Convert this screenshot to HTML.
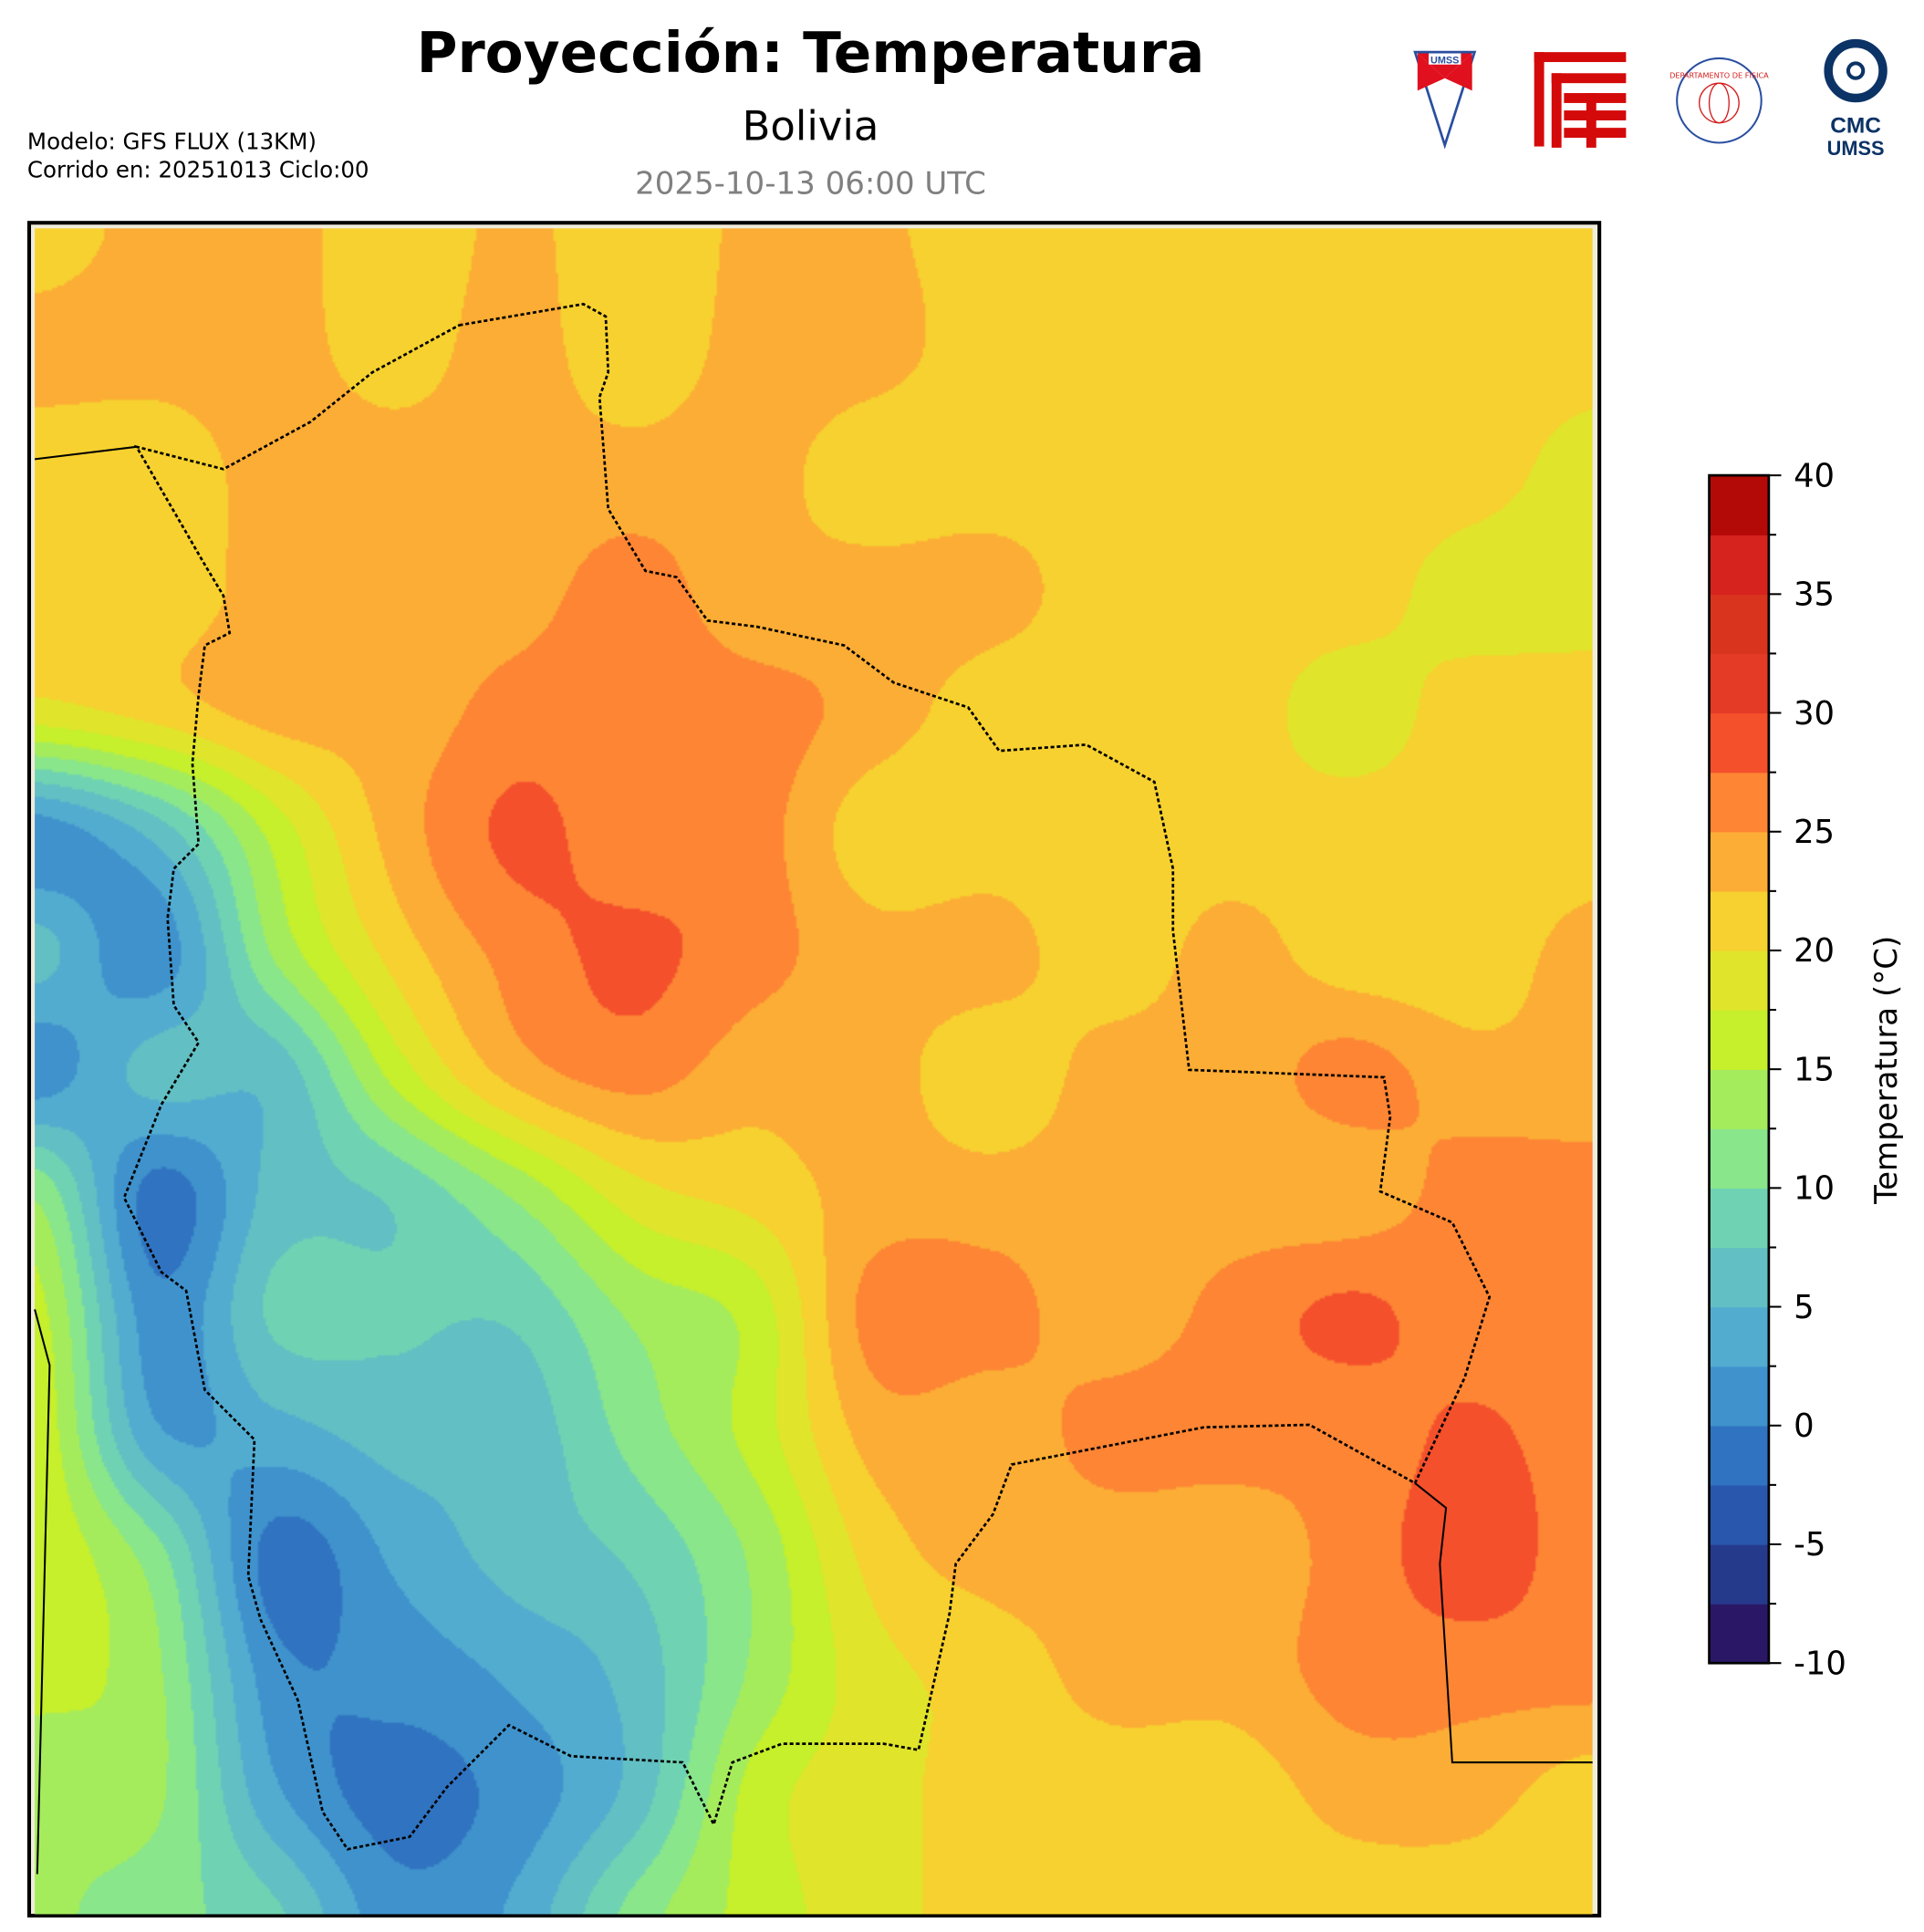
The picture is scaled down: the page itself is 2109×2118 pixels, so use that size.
<!DOCTYPE html>
<html><head><meta charset="utf-8">
<style>
html,body{margin:0;padding:0;background:#fff;}
body{width:2109px;height:2118px;overflow:hidden;position:relative;}
#wrap{position:absolute;left:0;top:0;width:1550px;height:1557px;transform:scale(1.3606);transform-origin:0 0;font-family:"DejaVu Sans","Liberation Sans",sans-serif;}
.t{position:absolute;white-space:nowrap;}
</style></head>
<body>
<div id="wrap">
  <div class="t" style="left:0;width:1306px;text-align:center;top:16px;font-size:45px;font-weight:bold;color:#000;">Proyección: Temperatura</div>
  <div class="t" style="left:0;width:1306px;text-align:center;top:82px;font-size:33px;color:#000;">Bolivia</div>
  <div class="t" style="left:0;width:1306px;text-align:center;top:133px;font-size:25px;color:#808080;">2025-10-13 06:00 UTC</div>
  <div class="t" style="left:22px;top:103px;font-size:18px;line-height:23px;color:#000;">Modelo: GFS FLUX (13KM)<br>Corrido en: 20251013 Ciclo:00</div>

  <svg style="position:absolute;left:1120px;top:25px;" width="420" height="110" viewBox="0 0 420 110">
    <g>
      <polygon points="20,17 68,17 44,92" fill="#fff" stroke="#2a4fa0" stroke-width="2"/>
      <polygon points="22,18 66,18 44,38" fill="#e0101e"/>
      <polygon points="22,18 44,38 22,48" fill="#e0101e"/>
      <polygon points="44,38 66,18 66,48" fill="#e0101e"/>
      <rect x="31" y="18" width="26" height="9" fill="#fff"/>
      <text x="44" y="26" font-size="8" font-weight="bold" fill="#2a4fa0" text-anchor="middle" font-family="Liberation Sans,sans-serif">UMSS</text>
    </g>
    <g fill="#d40a0a">
      <rect x="116" y="17" width="74" height="8"/>
      <rect x="116" y="17" width="8" height="76"/>
      <rect x="130" y="34" width="60" height="8"/>
      <rect x="130" y="34" width="8" height="60"/>
      <rect x="140" y="50" width="50" height="8"/>
      <rect x="140" y="64" width="50" height="8"/>
      <rect x="140" y="78" width="50" height="8"/>
      <rect x="158" y="50" width="8" height="44"/>
    </g>
    <g>
      <circle cx="265" cy="56" r="34" fill="none" stroke="#2a4fa0" stroke-width="1.5"/>
      <circle cx="265" cy="58" r="16" fill="none" stroke="#d42020" stroke-width="1"/>
      <ellipse cx="265" cy="58" rx="8" ry="16" fill="none" stroke="#d42020" stroke-width="1"/>
      <text x="265" y="38" font-size="6" fill="#d42020" text-anchor="middle">DEPARTAMENTO DE FISICA</text>
    </g>
    <g>
      <circle cx="375" cy="32" r="22" fill="none" stroke="#0c3366" stroke-width="7"/>
      <circle cx="375" cy="32" r="6" fill="none" stroke="#0c3366" stroke-width="3"/>
      <text x="375" y="82" font-size="18" font-weight="bold" fill="#0c3366" text-anchor="middle" font-family="Liberation Sans,sans-serif">CMC</text>
      <text x="375" y="100" font-size="16" font-weight="bold" fill="#0c3366" text-anchor="middle" font-family="Liberation Sans,sans-serif">UMSS</text>
    </g>
  </svg>

  <div style="position:absolute;left:22px;top:178px;width:1262px;height:1361px;border:3px solid #000;background:#f0ecdc;overflow:hidden;">
    <canvas id="map" width="628" height="680" style="position:absolute;left:3px;top:3px;width:1255px;height:1360px;"></canvas>
    <svg id="borders" style="position:absolute;left:-25px;top:-181px;" width="1320" height="1560" viewBox="0 0 1320 1560"></svg>
  </div>

  <svg id="cbar" style="position:absolute;left:1360px;top:370px;" width="190" height="990" viewBox="1360 370 190 990"></svg>
</div>

<script>
// ---- data ----
const gridCols = [28,125,221,318,414,511,607,704,800,897,993,1090,1186,1283];
const gridRows = [183,280,377,474,571,668,765,862,959,1056,1153,1250,1347,1444,1543];
const t0  = [21,23.5,23.5,21,23,21,23,23,21,21,21,21,21,21];
const t1  = [23.5,23.5,23.5,21.5,23.5,21,23.5,23.5,21,21,21,21,21,21];
const t2  = [21,21,23.5,23.5,23.5,23.5,23.5,21,21,21,21,21,21,19];
const t3  = [21,21,23.5,23.5,24,26,23.5,23.5,23.5,21,21,21,19,19];
const t4  = [19,21,23.5,23.5,26,26,26,24,21,21,21,19,21,21];
const t5  = [1,6,16,23.5,28,26,26,21,21,21,21,21,21,21];
const t6  = [6,1,13,21,26,28,26,23.5,23.5,21,23.5,21,21,23.5];
const t7  = [1,6,6,16,23.5,26,23.5,23.5,21,23.5,23.5,26,23.5,23.5];
const t8  = [12,-1,6,8,13,19,21,23.5,23.5,23.5,23.5,23.5,26,26];
const t9  = [16,1,8,8,8,13,16,26,26,23.5,26,28,26,26];
const t10 = [17,3,4,6,6,11,16,23.5,23.5,26,26,26,28,26];
const t11 = [17,11,-1,3,6,8,13,21,23.5,23.5,23.5,26,29,26];
const t12 = [16,13,1,1,3,6,13,19,21,23.5,23.5,26,26,26];
const t13 = [13,13,3,-1,1,6,16,19,21,21,21,23.5,23.5,21];
const t14 = [13,11,8,1,3,11,16,19,21,21,21,21,21,21];
const tempRows = [t0,t1,t2,t3,t4,t5,t6,t7,t8,t9,t10,t11,t12,t13,t14];
const levels = [-10,-7.5,-5,-2.5,0,2.5,5,7.5,10,12.5,15,17.5,20,22.5,25,27.5,30,32.5,35,37.5,40];
const levelColors = ["#2a1866","#263a8c","#2857ad","#3073c0","#3f92cc","#52acd0","#62bfc3","#6fd3b3","#89e68b","#a5ec5c","#c6ef2c","#e0e52b","#f7d12f","#fcad35","#fd8534","#f4502c","#e43b26","#d8341e","#d7231d","#b30a08"];
const tickLabels = ["40","35","30","25","20","15","10","5","0","-5","-10"];
const tickValues = [40,35,30,25,20,15,10,5,0,-5,-10];

// ---- field ----
(function(){
  const cv=document.getElementById('map'), ctx=cv.getContext('2d');
  const W=cv.width,H=cv.height, img=ctx.createImageData(W,H);
  const rgb=levelColors.map(c=>[parseInt(c.substr(1,2),16),parseInt(c.substr(3,2),16),parseInt(c.substr(5,2),16)]);
  const nr=tempRows.length,nc=tempRows[0].length;
  function g(r,c){r=Math.max(0,Math.min(nr-1,r));c=Math.max(0,Math.min(nc-1,c));return tempRows[r][c];}
  function cr(p0,p1,p2,p3,t){return 0.5*((2*p1)+(-p0+p2)*t+(2*p0-5*p1+4*p2-p3)*t*t+(-p0+3*p1-3*p2+p3)*t*t*t);}
  for(let y=0;y<H;y++){
    const gy=y/(H-1)*(nr-1), r=Math.floor(gy), ty=gy-r;
    for(let x=0;x<W;x++){
      const gx=x/(W-1)*(nc-1), c=Math.floor(gx), tx=gx-c;
      const a=[];
      for(let k=-1;k<=2;k++) a.push(cr(g(r+k,c-1),g(r+k,c),g(r+k,c+1),g(r+k,c+2),tx));
      const v=cr(a[0],a[1],a[2],a[3],ty);
      let b=Math.floor((v-levels[0])/2.5); b=Math.max(0,Math.min(19,b));
      const i=(y*W+x)*4; img.data[i]=rgb[b][0]; img.data[i+1]=rgb[b][1]; img.data[i+2]=rgb[b][2]; img.data[i+3]=255;
    }
  }
  ctx.putImageData(img,0,0);
})();

// ---- borders ----
(function(){
  const ns='http://www.w3.org/2000/svg', svg=document.getElementById('borders');
  const bol="370,262 470,245 488,255 490,300 483,320 490,410 520,460 545,465 570,500 610,505 680,520 720,550 780,570 805,605 875,600 930,630 945,700 945,750 958,862 1115,868 1120,900 1112,960 1170,985 1200,1045 1180,1110 1140,1195 1055,1148 970,1150 815,1180 800,1220 770,1260 765,1300 740,1410 712,1405 630,1405 590,1420 575,1470 550,1420 460,1415 410,1390 360,1440 330,1480 280,1490 260,1460 240,1370 210,1305 200,1270 205,1160 165,1120 150,1040 130,1025 100,965 130,890 160,840 140,810 135,740 140,700 160,680 155,615 160,560 165,520 185,510 180,480 165,455 110,360 180,378 250,340 300,300 370,262";
  const other=["28,370 110,360","1140,1195 1165,1215 1160,1260 1170,1420 1283,1420","28,1055 40,1100 30,1510"];
  let p=document.createElementNS(ns,'polyline');
  p.setAttribute('points',bol);p.setAttribute('fill','none');p.setAttribute('stroke','#000');p.setAttribute('stroke-width','2');p.setAttribute('stroke-dasharray','3,2');
  
  
  svg.appendChild(p);
  other.forEach(s=>{const q=document.createElementNS(ns,'polyline');q.setAttribute('points',s);q.setAttribute('fill','none');q.setAttribute('stroke','#000');q.setAttribute('stroke-width','1.5');
    
    
    svg.appendChild(q);});
})();

// ---- colorbar ----
(function(){
  const ns='http://www.w3.org/2000/svg', svg=document.getElementById('cbar');
  const x0=1377,x1=1425,yTop=383,yBot=1340;
  const yOf=v=>yBot-(v-levels[0])/(levels[levels.length-1]-levels[0])*(yBot-yTop);
  for(let i=0;i<levelColors.length;i++){
    const r=document.createElementNS(ns,'rect');
    r.setAttribute('x',x0);r.setAttribute('y',yOf(levels[i+1]));r.setAttribute('width',x1-x0);r.setAttribute('height',yOf(levels[i])-yOf(levels[i+1])+0.5);r.setAttribute('fill',levelColors[i]);
    
    
    svg.appendChild(r);
  }
  const fr=document.createElementNS(ns,'rect');
  fr.setAttribute('x',x0);fr.setAttribute('y',yTop);fr.setAttribute('width',x1-x0);fr.setAttribute('height',yBot-yTop);fr.setAttribute('fill','none');fr.setAttribute('stroke','#000');fr.setAttribute('stroke-width','2');
  
  
  svg.appendChild(fr);
  levels.forEach(v=>{
    const major=tickValues.indexOf(v)>=0;
    const l=document.createElementNS(ns,'line');
    l.setAttribute('x1',x1);l.setAttribute('x2',x1+(major?10:6));l.setAttribute('y1',yOf(v));l.setAttribute('y2',yOf(v));l.setAttribute('stroke','#000');l.setAttribute('stroke-width','1.5');
    
    
    svg.appendChild(l);
  });
  tickValues.forEach((v,i)=>{
    const t=document.createElementNS(ns,'text');
    t.setAttribute('x',x1+20);t.setAttribute('y',yOf(v)+9);t.setAttribute('font-size','26');t.setAttribute('font-family','DejaVu Sans, Liberation Sans, sans-serif');
    t.textContent=tickLabels[i];
    
    
    svg.appendChild(t);
  });
  const tt=document.createElementNS(ns,'text');
  tt.setAttribute('transform','translate(1528,862) rotate(-90)');tt.setAttribute('text-anchor','middle');tt.setAttribute('font-size','25');tt.setAttribute('font-family','DejaVu Sans, Liberation Sans, sans-serif');
  tt.textContent='Temperatura (°C)';
  
  
  svg.appendChild(tt);
})();
</script>
</body></html>
